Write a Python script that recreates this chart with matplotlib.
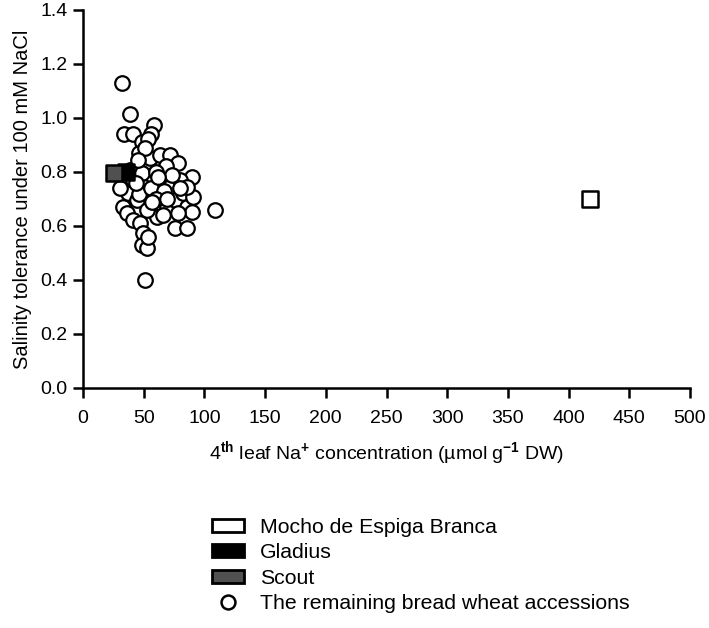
import matplotlib
matplotlib.use("Agg")
import matplotlib.pyplot as plt
from matplotlib.patches import Patch
from matplotlib.lines import Line2D

plt.rcParams['font.family'] = ['Liberation Sans', 'DejaVu Sans']
plt.rcParams['mathtext.fontset'] = 'custom'
plt.rcParams['mathtext.rm'] = 'Liberation Sans'
plt.rcParams['mathtext.bf'] = 'Liberation Sans:bold'

# Remaining bread wheat accessions: Na+ (umol/g DW), salinity tolerance
acc_na = [31.9, 38.7, 34.0, 41.5, 58.5, 55.7, 49.0, 46.4, 55.0, 63.4, 71.7, 78.5, 68.4, 89.5,
          33.2, 36.0, 37.3, 41.5, 44.2, 41.5, 47.0, 51.0, 55.2, 59.3, 63.4, 64.8, 68.9, 71.7,
          75.8, 79.9, 82.6, 85.4, 89.5, 90.9, 78.5, 75.8, 85.4, 60.7, 52.5, 49.7, 48.3, 52.5,
          53.8, 51.0, 108.7, 30.5, 38.7, 56.6, 48.3, 60.0, 46.5, 56.0, 66.5, 73.0, 85.4, 60.0,
          69.5, 53.8, 51.0, 45.6, 57.0, 66.0, 80.0, 44.0, 62.0]
acc_st = [1.131, 1.015, 0.940, 0.940, 0.974, 0.940, 0.912, 0.872, 0.852, 0.863, 0.863, 0.832,
          0.822, 0.783, 0.672, 0.647, 0.721, 0.770, 0.696, 0.622, 0.610, 0.746, 0.709, 0.672,
          0.758, 0.709, 0.672, 0.746, 0.696, 0.770, 0.721, 0.672, 0.653, 0.709, 0.647, 0.591,
          0.591, 0.634, 0.659, 0.573, 0.530, 0.517, 0.560, 0.400, 0.659, 0.740, 0.807, 0.789,
          0.795, 0.800, 0.720, 0.740, 0.730, 0.789, 0.746, 0.700, 0.700, 0.924, 0.888, 0.844,
          0.690, 0.640, 0.740, 0.760, 0.780]

mocho_na, mocho_st = [418.0], [0.70]
gladius_na, gladius_st = [35.4], [0.800]
scout_na, scout_st = [25.8], [0.795]

x_ticks = [0, 50, 100, 150, 200, 250, 300, 350, 400, 450, 500]
y_ticks = [0.0, 0.2, 0.4, 0.6, 0.8, 1.0, 1.2, 1.4]

fig = plt.figure(figsize=(7.09, 6.28), dpi=100)
ax = fig.add_axes([83/709, 1 - 388/628, (690 - 83)/709, (388 - 10)/628])

ax.scatter(acc_na, acc_st, s=110, facecolor='white', edgecolor='black', linewidths=1.6, zorder=3)
ax.scatter(mocho_na, mocho_st, s=135, marker='s', facecolor='white', edgecolor='black', linewidths=1.8, zorder=4)
ax.scatter(gladius_na, gladius_st, s=135, marker='s', facecolor='black', edgecolor='black', linewidths=1.8, zorder=4)
ax.scatter(scout_na, scout_st, s=135, marker='s', facecolor='#505050', edgecolor='black', linewidths=1.8, zorder=5)

ax.set_xlim(0, 500)
ax.set_ylim(0, 1.4)
ax.set_xticks(x_ticks)
ax.set_yticks(y_ticks)
ax.set_xticklabels([str(t) for t in x_ticks])
ax.set_yticklabels([f"{t:.1f}" for t in y_ticks])
for s in ['top', 'right']:
    ax.spines[s].set_visible(False)
for s in ['left', 'bottom']:
    ax.spines[s].set_linewidth(1.8)
ax.tick_params(axis='both', width=1.8, length=7, labelsize=14, direction='out', pad=4)
ax.tick_params(axis='x', pad=9)

ax.set_xlabel(r"4$^{\mathbf{th}}$ leaf Na$^{\mathbf{+}}$ concentration (µmol g$^{\mathbf{-1}}$ DW)",
              fontsize=14, labelpad=9)
ax.set_ylabel("Salinity tolerance under 100 mM NaCl", fontsize=14.5, labelpad=6)

handles = [
    Patch(facecolor='white', edgecolor='black', linewidth=2.0),
    Patch(facecolor='black', edgecolor='black', linewidth=2.0),
    Patch(facecolor='#505050', edgecolor='black', linewidth=2.0),
    Line2D([], [], marker='o', linestyle='none', markersize=10, markerfacecolor='white',
           markeredgecolor='black', markeredgewidth=1.8),
]
labels = ["Mocho de Espiga Branca", "Gladius", "Scout", "The remaining bread wheat accessions"]
fig.legend(handles, labels, loc='upper left', bbox_to_anchor=(212/709, 1 - 518/628),
           frameon=False, fontsize=15.3, handlelength=1.5, handleheight=0.55,
           labelspacing=0.3, handletextpad=0.75, borderpad=0, borderaxespad=0)

fig.savefig("out.png", dpi=100)
